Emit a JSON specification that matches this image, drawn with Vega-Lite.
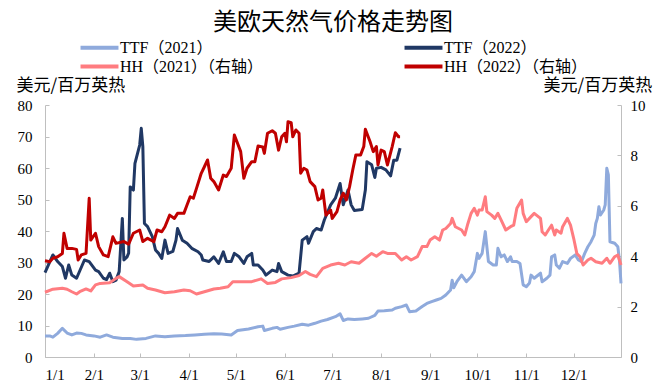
{
  "$schema": "https://vega.github.io/schema/vega-lite/v6.json",
  "width": 576,
  "height": 252,
  "autosize": {"type": "none"},
  "padding": {"left": 45, "top": 105, "right": 38, "bottom": 34},
  "background": "white",
  "title": {"text": "美欧天然气价格走势图", "font": "Noto Sans CJK SC", "fontSize": 24, "fontWeight": "normal", "color": "#000000", "anchor": "middle", "frame": "group", "offset": 0, "dy": -4},
  "config": {
    "view": {"stroke": null},
    "axis": {"grid": false, "domainColor": "#BFBFBF", "tickColor": "#BFBFBF", "labelFont": "Liberation Serif", "labelFontSize": 15, "labelColor": "#000000", "titleFont": "Noto Sans CJK SC", "titleFontSize": 17, "titleFontWeight": "normal", "titleColor": "#000000"},
    "legend": {"labelFont": "Liberation Serif, Noto Sans CJK SC", "labelFontSize": 16, "labelColor": "#000000"}
  },
  "data": {
    "format": {"parse": {"date": "date:'%Y-%m-%d'"}},
    "values": [
      {"series": "TTF（2021）", "date": "2021-01-01", "value": 6.7},
      {"series": "TTF（2021）", "date": "2021-01-04", "value": 6.7},
      {"series": "TTF（2021）", "date": "2021-01-06", "value": 6.3},
      {"series": "TTF（2021）", "date": "2021-01-09", "value": 7.5},
      {"series": "TTF（2021）", "date": "2021-01-12", "value": 9.1},
      {"series": "TTF（2021）", "date": "2021-01-15", "value": 7.6},
      {"series": "TTF（2021）", "date": "2021-01-18", "value": 7.0},
      {"series": "TTF（2021）", "date": "2021-01-21", "value": 7.6},
      {"series": "TTF（2021）", "date": "2021-01-24", "value": 7.5},
      {"series": "TTF（2021）", "date": "2021-01-27", "value": 7.0},
      {"series": "TTF（2021）", "date": "2021-02-01", "value": 6.7},
      {"series": "TTF（2021）", "date": "2021-02-05", "value": 6.3},
      {"series": "TTF（2021）", "date": "2021-02-09", "value": 7.0},
      {"series": "TTF（2021）", "date": "2021-02-13", "value": 6.3},
      {"series": "TTF（2021）", "date": "2021-02-19", "value": 5.9},
      {"series": "TTF（2021）", "date": "2021-02-24", "value": 5.9},
      {"series": "TTF（2021）", "date": "2021-02-28", "value": 5.6},
      {"series": "TTF（2021）", "date": "2021-03-05", "value": 5.9},
      {"series": "TTF（2021）", "date": "2021-03-11", "value": 6.7},
      {"series": "TTF（2021）", "date": "2021-03-17", "value": 6.4},
      {"series": "TTF（2021）", "date": "2021-03-23", "value": 6.7},
      {"series": "TTF（2021）", "date": "2021-03-30", "value": 6.8},
      {"series": "TTF（2021）", "date": "2021-04-05", "value": 7.0},
      {"series": "TTF（2021）", "date": "2021-04-11", "value": 7.2},
      {"series": "TTF（2021）", "date": "2021-04-17", "value": 7.4},
      {"series": "TTF（2021）", "date": "2021-04-22", "value": 7.3},
      {"series": "TTF（2021）", "date": "2021-04-28", "value": 7.0},
      {"series": "TTF（2021）", "date": "2021-05-02", "value": 8.4},
      {"series": "TTF（2021）", "date": "2021-05-09", "value": 8.9},
      {"series": "TTF（2021）", "date": "2021-05-15", "value": 9.6},
      {"series": "TTF（2021）", "date": "2021-05-18", "value": 9.8},
      {"series": "TTF（2021）", "date": "2021-05-19", "value": 8.4},
      {"series": "TTF（2021）", "date": "2021-05-24", "value": 9.1},
      {"series": "TTF（2021）", "date": "2021-05-27", "value": 9.4},
      {"series": "TTF（2021）", "date": "2021-05-29", "value": 8.8},
      {"series": "TTF（2021）", "date": "2021-06-03", "value": 9.4},
      {"series": "TTF（2021）", "date": "2021-06-07", "value": 9.8},
      {"series": "TTF（2021）", "date": "2021-06-12", "value": 10.4},
      {"series": "TTF（2021）", "date": "2021-06-16", "value": 10.1},
      {"series": "TTF（2021）", "date": "2021-06-20", "value": 10.7},
      {"series": "TTF（2021）", "date": "2021-06-24", "value": 11.4},
      {"series": "TTF（2021）", "date": "2021-06-28", "value": 11.9},
      {"series": "TTF（2021）", "date": "2021-07-03", "value": 12.8},
      {"series": "TTF（2021）", "date": "2021-07-06", "value": 13.7},
      {"series": "TTF（2021）", "date": "2021-07-08", "value": 11.6},
      {"series": "TTF（2021）", "date": "2021-07-11", "value": 12.1},
      {"series": "TTF（2021）", "date": "2021-07-15", "value": 11.9},
      {"series": "TTF（2021）", "date": "2021-07-20", "value": 12.1},
      {"series": "TTF（2021）", "date": "2021-07-24", "value": 12.3},
      {"series": "TTF（2021）", "date": "2021-07-28", "value": 13.2},
      {"series": "TTF（2021）", "date": "2021-07-30", "value": 14.6},
      {"series": "TTF（2021）", "date": "2021-08-03", "value": 14.7},
      {"series": "TTF（2021）", "date": "2021-08-08", "value": 14.9},
      {"series": "TTF（2021）", "date": "2021-08-10", "value": 15.5},
      {"series": "TTF（2021）", "date": "2021-08-14", "value": 16.0},
      {"series": "TTF（2021）", "date": "2021-08-17", "value": 16.5},
      {"series": "TTF（2021）", "date": "2021-08-19", "value": 14.4},
      {"series": "TTF（2021）", "date": "2021-08-23", "value": 14.6},
      {"series": "TTF（2021）", "date": "2021-08-27", "value": 16.0},
      {"series": "TTF（2021）", "date": "2021-08-30", "value": 17.0},
      {"series": "TTF（2021）", "date": "2021-09-02", "value": 17.6},
      {"series": "TTF（2021）", "date": "2021-09-05", "value": 18.1},
      {"series": "TTF（2021）", "date": "2021-09-08", "value": 18.6},
      {"series": "TTF（2021）", "date": "2021-09-11", "value": 19.7},
      {"series": "TTF（2021）", "date": "2021-09-14", "value": 21.3},
      {"series": "TTF（2021）", "date": "2021-09-15", "value": 24.4},
      {"series": "TTF（2021）", "date": "2021-09-16", "value": 22.0},
      {"series": "TTF（2021）", "date": "2021-09-18", "value": 23.9},
      {"series": "TTF（2021）", "date": "2021-09-21", "value": 26.0},
      {"series": "TTF（2021）", "date": "2021-09-24", "value": 23.9},
      {"series": "TTF（2021）", "date": "2021-09-27", "value": 25.5},
      {"series": "TTF（2021）", "date": "2021-09-29", "value": 27.1},
      {"series": "TTF（2021）", "date": "2021-10-01", "value": 32.9},
      {"series": "TTF（2021）", "date": "2021-10-02", "value": 31.3},
      {"series": "TTF（2021）", "date": "2021-10-04", "value": 32.9},
      {"series": "TTF（2021）", "date": "2021-10-06", "value": 39.8},
      {"series": "TTF（2021）", "date": "2021-10-07", "value": 35.0},
      {"series": "TTF（2021）", "date": "2021-10-08", "value": 30.3},
      {"series": "TTF（2021）", "date": "2021-10-11", "value": 29.2},
      {"series": "TTF（2021）", "date": "2021-10-13", "value": 29.2},
      {"series": "TTF（2021）", "date": "2021-10-14", "value": 34.5},
      {"series": "TTF（2021）", "date": "2021-10-16", "value": 31.8},
      {"series": "TTF（2021）", "date": "2021-10-18", "value": 32.4},
      {"series": "TTF（2021）", "date": "2021-10-20", "value": 30.3},
      {"series": "TTF（2021）", "date": "2021-10-22", "value": 31.8},
      {"series": "TTF（2021）", "date": "2021-10-23", "value": 30.3},
      {"series": "TTF（2021）", "date": "2021-10-26", "value": 30.3},
      {"series": "TTF（2021）", "date": "2021-10-28", "value": 29.7},
      {"series": "TTF（2021）", "date": "2021-10-30", "value": 22.9},
      {"series": "TTF（2021）", "date": "2021-11-01", "value": 22.3},
      {"series": "TTF（2021）", "date": "2021-11-03", "value": 23.5},
      {"series": "TTF（2021）", "date": "2021-11-04", "value": 26.0},
      {"series": "TTF（2021）", "date": "2021-11-06", "value": 25.0},
      {"series": "TTF（2021）", "date": "2021-11-10", "value": 26.6},
      {"series": "TTF（2021）", "date": "2021-11-11", "value": 23.9},
      {"series": "TTF（2021）", "date": "2021-11-14", "value": 25.0},
      {"series": "TTF（2021）", "date": "2021-11-16", "value": 26.0},
      {"series": "TTF（2021）", "date": "2021-11-17", "value": 31.8},
      {"series": "TTF（2021）", "date": "2021-11-19", "value": 32.4},
      {"series": "TTF（2021）", "date": "2021-11-20", "value": 29.2},
      {"series": "TTF（2021）", "date": "2021-11-22", "value": 28.2},
      {"series": "TTF（2021）", "date": "2021-11-24", "value": 30.3},
      {"series": "TTF（2021）", "date": "2021-11-27", "value": 29.7},
      {"series": "TTF（2021）", "date": "2021-11-29", "value": 31.3},
      {"series": "TTF（2021）", "date": "2021-12-02", "value": 32.4},
      {"series": "TTF（2021）", "date": "2021-12-04", "value": 30.8},
      {"series": "TTF（2021）", "date": "2021-12-06", "value": 30.3},
      {"series": "TTF（2021）", "date": "2021-12-08", "value": 32.9},
      {"series": "TTF（2021）", "date": "2021-12-10", "value": 35.0},
      {"series": "TTF（2021）", "date": "2021-12-12", "value": 36.6},
      {"series": "TTF（2021）", "date": "2021-12-14", "value": 38.7},
      {"series": "TTF（2021）", "date": "2021-12-15", "value": 42.4},
      {"series": "TTF（2021）", "date": "2021-12-16", "value": 44.0},
      {"series": "TTF（2021）", "date": "2021-12-17", "value": 47.7},
      {"series": "TTF（2021）", "date": "2021-12-18", "value": 45.1},
      {"series": "TTF（2021）", "date": "2021-12-20", "value": 46.6},
      {"series": "TTF（2021）", "date": "2021-12-21", "value": 48.3},
      {"series": "TTF（2021）", "date": "2021-12-22", "value": 59.9},
      {"series": "TTF（2021）", "date": "2021-12-23", "value": 57.8},
      {"series": "TTF（2021）", "date": "2021-12-24", "value": 36.6},
      {"series": "TTF（2021）", "date": "2021-12-27", "value": 36.1},
      {"series": "TTF（2021）", "date": "2021-12-29", "value": 35.0},
      {"series": "TTF（2021）", "date": "2021-12-30", "value": 30.8},
      {"series": "TTF（2021）", "date": "2021-12-31", "value": 23.4},

      {"series": "TTF（2022）", "date": "2022-01-01", "value": 26.8},
      {"series": "TTF（2022）", "date": "2022-01-06", "value": 32.4},
      {"series": "TTF（2022）", "date": "2022-01-09", "value": 30.3},
      {"series": "TTF（2022）", "date": "2022-01-12", "value": 28.7},
      {"series": "TTF（2022）", "date": "2022-01-14", "value": 25.0},
      {"series": "TTF（2022）", "date": "2022-01-16", "value": 29.2},
      {"series": "TTF（2022）", "date": "2022-01-18", "value": 26.0},
      {"series": "TTF（2022）", "date": "2022-01-21", "value": 25.0},
      {"series": "TTF（2022）", "date": "2022-01-26", "value": 30.8},
      {"series": "TTF（2022）", "date": "2022-01-29", "value": 30.3},
      {"series": "TTF（2022）", "date": "2022-02-02", "value": 27.6},
      {"series": "TTF（2022）", "date": "2022-02-04", "value": 27.1},
      {"series": "TTF（2022）", "date": "2022-02-07", "value": 25.0},
      {"series": "TTF（2022）", "date": "2022-02-09", "value": 24.6},
      {"series": "TTF（2022）", "date": "2022-02-11", "value": 26.6},
      {"series": "TTF（2022）", "date": "2022-02-13", "value": 23.9},
      {"series": "TTF（2022）", "date": "2022-02-15", "value": 24.4},
      {"series": "TTF（2022）", "date": "2022-02-17", "value": 27.1},
      {"series": "TTF（2022）", "date": "2022-02-19", "value": 44.0},
      {"series": "TTF（2022）", "date": "2022-02-20", "value": 30.8},
      {"series": "TTF（2022）", "date": "2022-02-22", "value": 31.8},
      {"series": "TTF（2022）", "date": "2022-02-23", "value": 33.0},
      {"series": "TTF（2022）", "date": "2022-02-24", "value": 54.0},
      {"series": "TTF（2022）", "date": "2022-02-26", "value": 53.0},
      {"series": "TTF（2022）", "date": "2022-02-27", "value": 61.5},
      {"series": "TTF（2022）", "date": "2022-03-01", "value": 67.3},
      {"series": "TTF（2022）", "date": "2022-03-02", "value": 72.6},
      {"series": "TTF（2022）", "date": "2022-03-03", "value": 66.8},
      {"series": "TTF（2022）", "date": "2022-03-04", "value": 42.4},
      {"series": "TTF（2022）", "date": "2022-03-06", "value": 41.4},
      {"series": "TTF（2022）", "date": "2022-03-09", "value": 38.2},
      {"series": "TTF（2022）", "date": "2022-03-11", "value": 34.0},
      {"series": "TTF（2022）", "date": "2022-03-13", "value": 32.9},
      {"series": "TTF（2022）", "date": "2022-03-15", "value": 31.3},
      {"series": "TTF（2022）", "date": "2022-03-17", "value": 37.1},
      {"series": "TTF（2022）", "date": "2022-03-19", "value": 32.9},
      {"series": "TTF（2022）", "date": "2022-03-22", "value": 33.5},
      {"series": "TTF（2022）", "date": "2022-03-24", "value": 37.1},
      {"series": "TTF（2022）", "date": "2022-03-25", "value": 40.8},
      {"series": "TTF（2022）", "date": "2022-03-28", "value": 37.1},
      {"series": "TTF（2022）", "date": "2022-03-31", "value": 36.1},
      {"series": "TTF（2022）", "date": "2022-04-03", "value": 34.5},
      {"series": "TTF（2022）", "date": "2022-04-07", "value": 33.4},
      {"series": "TTF（2022）", "date": "2022-04-09", "value": 32.4},
      {"series": "TTF（2022）", "date": "2022-04-10", "value": 30.8},
      {"series": "TTF（2022）", "date": "2022-04-14", "value": 30.3},
      {"series": "TTF（2022）", "date": "2022-04-17", "value": 31.8},
      {"series": "TTF（2022）", "date": "2022-04-20", "value": 29.7},
      {"series": "TTF（2022）", "date": "2022-04-23", "value": 33.4},
      {"series": "TTF（2022）", "date": "2022-04-25", "value": 30.3},
      {"series": "TTF（2022）", "date": "2022-04-28", "value": 30.3},
      {"series": "TTF（2022）", "date": "2022-04-30", "value": 32.9},
      {"series": "TTF（2022）", "date": "2022-05-03", "value": 31.8},
      {"series": "TTF（2022）", "date": "2022-05-06", "value": 29.7},
      {"series": "TTF（2022）", "date": "2022-05-08", "value": 31.8},
      {"series": "TTF（2022）", "date": "2022-05-11", "value": 32.9},
      {"series": "TTF（2022）", "date": "2022-05-12", "value": 29.2},
      {"series": "TTF（2022）", "date": "2022-05-15", "value": 29.2},
      {"series": "TTF（2022）", "date": "2022-05-18", "value": 27.6},
      {"series": "TTF（2022）", "date": "2022-05-20", "value": 26.0},
      {"series": "TTF（2022）", "date": "2022-05-24", "value": 27.6},
      {"series": "TTF（2022）", "date": "2022-05-27", "value": 27.1},
      {"series": "TTF（2022）", "date": "2022-05-28", "value": 29.7},
      {"series": "TTF（2022）", "date": "2022-05-30", "value": 27.1},
      {"series": "TTF（2022）", "date": "2022-06-03", "value": 26.0},
      {"series": "TTF（2022）", "date": "2022-06-06", "value": 25.7},
      {"series": "TTF（2022）", "date": "2022-06-10", "value": 26.6},
      {"series": "TTF（2022）", "date": "2022-06-12", "value": 37.1},
      {"series": "TTF（2022）", "date": "2022-06-15", "value": 38.2},
      {"series": "TTF（2022）", "date": "2022-06-16", "value": 36.1},
      {"series": "TTF（2022）", "date": "2022-06-19", "value": 39.8},
      {"series": "TTF（2022）", "date": "2022-06-21", "value": 40.8},
      {"series": "TTF（2022）", "date": "2022-06-24", "value": 40.3},
      {"series": "TTF（2022）", "date": "2022-06-26", "value": 43.5},
      {"series": "TTF（2022）", "date": "2022-06-30", "value": 48.3},
      {"series": "TTF（2022）", "date": "2022-07-03", "value": 50.4},
      {"series": "TTF（2022）", "date": "2022-07-06", "value": 55.1},
      {"series": "TTF（2022）", "date": "2022-07-08", "value": 48.3},
      {"series": "TTF（2022）", "date": "2022-07-11", "value": 53.0},
      {"series": "TTF（2022）", "date": "2022-07-13", "value": 48.3},
      {"series": "TTF（2022）", "date": "2022-07-15", "value": 46.5},
      {"series": "TTF（2022）", "date": "2022-07-20", "value": 46.8},
      {"series": "TTF（2022）", "date": "2022-07-22", "value": 53.0},
      {"series": "TTF（2022）", "date": "2022-07-23", "value": 62.0},
      {"series": "TTF（2022）", "date": "2022-07-26", "value": 61.0},
      {"series": "TTF（2022）", "date": "2022-07-28", "value": 57.0},
      {"series": "TTF（2022）", "date": "2022-07-29", "value": 59.9},
      {"series": "TTF（2022）", "date": "2022-08-01", "value": 60.2},
      {"series": "TTF（2022）", "date": "2022-08-04", "value": 59.4},
      {"series": "TTF（2022）", "date": "2022-08-07", "value": 57.5},
      {"series": "TTF（2022）", "date": "2022-08-09", "value": 62.5},
      {"series": "TTF（2022）", "date": "2022-08-11", "value": 62.5},
      {"series": "TTF（2022）", "date": "2022-08-13", "value": 66.3},

      {"series": "HH（2021）（右轴）", "date": "2021-01-01", "value": 2.57},
      {"series": "HH（2021）（右轴）", "date": "2021-01-06", "value": 2.69},
      {"series": "HH（2021）（右轴）", "date": "2021-01-12", "value": 2.73},
      {"series": "HH（2021）（右轴）", "date": "2021-01-15", "value": 2.69},
      {"series": "HH（2021）（右轴）", "date": "2021-01-18", "value": 2.59},
      {"series": "HH（2021）（右轴）", "date": "2021-01-21", "value": 2.5},
      {"series": "HH（2021）（右轴）", "date": "2021-01-23", "value": 2.59},
      {"series": "HH（2021）（右轴）", "date": "2021-01-27", "value": 2.7},
      {"series": "HH（2021）（右轴）", "date": "2021-01-30", "value": 2.62},
      {"series": "HH（2021）（右轴）", "date": "2021-02-02", "value": 2.86},
      {"series": "HH（2021）（右轴）", "date": "2021-02-05", "value": 2.92},
      {"series": "HH（2021）（右轴）", "date": "2021-02-11", "value": 2.95},
      {"series": "HH（2021）（右轴）", "date": "2021-02-15", "value": 3.12},
      {"series": "HH（2021）（右轴）", "date": "2021-02-17", "value": 3.19},
      {"series": "HH（2021）（右轴）", "date": "2021-02-22", "value": 2.99},
      {"series": "HH（2021）（右轴）", "date": "2021-02-26", "value": 2.82},
      {"series": "HH（2021）（右轴）", "date": "2021-03-03", "value": 2.86},
      {"series": "HH（2021）（右轴）", "date": "2021-03-06", "value": 2.73},
      {"series": "HH（2021）（右轴）", "date": "2021-03-11", "value": 2.66},
      {"series": "HH（2021）（右轴）", "date": "2021-03-17", "value": 2.55},
      {"series": "HH（2021）（右轴）", "date": "2021-03-23", "value": 2.59},
      {"series": "HH（2021）（右轴）", "date": "2021-03-29", "value": 2.66},
      {"series": "HH（2021）（右轴）", "date": "2021-04-02", "value": 2.63},
      {"series": "HH（2021）（右轴）", "date": "2021-04-06", "value": 2.5},
      {"series": "HH（2021）（右轴）", "date": "2021-04-11", "value": 2.59},
      {"series": "HH（2021）（右轴）", "date": "2021-04-17", "value": 2.7},
      {"series": "HH（2021）（右轴）", "date": "2021-04-21", "value": 2.73},
      {"series": "HH（2021）（右轴）", "date": "2021-04-26", "value": 2.79},
      {"series": "HH（2021）（右轴）", "date": "2021-04-29", "value": 2.99},
      {"series": "HH（2021）（右轴）", "date": "2021-05-04", "value": 2.99},
      {"series": "HH（2021）（右轴）", "date": "2021-05-11", "value": 2.99},
      {"series": "HH（2021）（右轴）", "date": "2021-05-17", "value": 3.1},
      {"series": "HH（2021）（右轴）", "date": "2021-05-21", "value": 2.92},
      {"series": "HH（2021）（右轴）", "date": "2021-05-26", "value": 2.96},
      {"series": "HH（2021）（右轴）", "date": "2021-05-30", "value": 3.1},
      {"series": "HH（2021）（右轴）", "date": "2021-06-05", "value": 3.15},
      {"series": "HH（2021）（右轴）", "date": "2021-06-10", "value": 3.23},
      {"series": "HH（2021）（右轴）", "date": "2021-06-14", "value": 3.39},
      {"series": "HH（2021）（右轴）", "date": "2021-06-17", "value": 3.28},
      {"series": "HH（2021）（右轴）", "date": "2021-06-21", "value": 3.19},
      {"series": "HH（2021）（右轴）", "date": "2021-06-25", "value": 3.52},
      {"series": "HH（2021）（右轴）", "date": "2021-06-30", "value": 3.65},
      {"series": "HH（2021）（右轴）", "date": "2021-07-05", "value": 3.72},
      {"series": "HH（2021）（右轴）", "date": "2021-07-09", "value": 3.65},
      {"series": "HH（2021）（右轴）", "date": "2021-07-13", "value": 3.78},
      {"series": "HH（2021）（右轴）", "date": "2021-07-18", "value": 3.72},
      {"series": "HH（2021）（右轴）", "date": "2021-07-22", "value": 3.92},
      {"series": "HH（2021）（右轴）", "date": "2021-07-26", "value": 4.11},
      {"series": "HH（2021）（右轴）", "date": "2021-07-29", "value": 4.0},
      {"series": "HH（2021）（右轴）", "date": "2021-08-02", "value": 4.18},
      {"series": "HH（2021）（右轴）", "date": "2021-08-05", "value": 4.11},
      {"series": "HH（2021）（右轴）", "date": "2021-08-10", "value": 4.11},
      {"series": "HH（2021）（右轴）", "date": "2021-08-14", "value": 3.85},
      {"series": "HH（2021）（右轴）", "date": "2021-08-17", "value": 3.98},
      {"series": "HH（2021）（右轴）", "date": "2021-08-20", "value": 3.85},
      {"series": "HH（2021）（右轴）", "date": "2021-08-24", "value": 3.98},
      {"series": "HH（2021）（右轴）", "date": "2021-08-27", "value": 4.38},
      {"series": "HH（2021）（右轴）", "date": "2021-08-30", "value": 4.38},
      {"series": "HH（2021）（右轴）", "date": "2021-09-01", "value": 4.64},
      {"series": "HH（2021）（右轴）", "date": "2021-09-04", "value": 4.77},
      {"series": "HH（2021）（右轴）", "date": "2021-09-07", "value": 4.64},
      {"series": "HH（2021）（右轴）", "date": "2021-09-09", "value": 5.04},
      {"series": "HH（2021）（右轴）", "date": "2021-09-11", "value": 5.1},
      {"series": "HH（2021）（右轴）", "date": "2021-09-14", "value": 5.3},
      {"series": "HH（2021）（右轴）", "date": "2021-09-15", "value": 5.5},
      {"series": "HH（2021）（右轴）", "date": "2021-09-17", "value": 5.17},
      {"series": "HH（2021）（右轴）", "date": "2021-09-21", "value": 5.04},
      {"series": "HH（2021）（右轴）", "date": "2021-09-23", "value": 4.84},
      {"series": "HH（2021）（右轴）", "date": "2021-09-25", "value": 5.3},
      {"series": "HH（2021）（右轴）", "date": "2021-09-27", "value": 5.7},
      {"series": "HH（2021）（右轴）", "date": "2021-09-29", "value": 5.9},
      {"series": "HH（2021）（右轴）", "date": "2021-10-01", "value": 5.63},
      {"series": "HH（2021）（右轴）", "date": "2021-10-02", "value": 5.83},
      {"series": "HH（2021）（右轴）", "date": "2021-10-04", "value": 5.83},
      {"series": "HH（2021）（右轴）", "date": "2021-10-06", "value": 6.36},
      {"series": "HH（2021）（右轴）", "date": "2021-10-07", "value": 5.77},
      {"series": "HH（2021）（右轴）", "date": "2021-10-10", "value": 5.63},
      {"series": "HH（2021）（右轴）", "date": "2021-10-12", "value": 5.5},
      {"series": "HH（2021）（右轴）", "date": "2021-10-14", "value": 5.7},
      {"series": "HH（2021）（右轴）", "date": "2021-10-16", "value": 5.44},
      {"series": "HH（2021）（右轴）", "date": "2021-10-19", "value": 5.04},
      {"series": "HH（2021）（右轴）", "date": "2021-10-22", "value": 5.17},
      {"series": "HH（2021）（右轴）", "date": "2021-10-24", "value": 5.23},
      {"series": "HH（2021）（右轴）", "date": "2021-10-26", "value": 5.9},
      {"series": "HH（2021）（右轴）", "date": "2021-10-29", "value": 6.23},
      {"series": "HH（2021）（右轴）", "date": "2021-10-30", "value": 5.7},
      {"series": "HH（2021）（右轴）", "date": "2021-11-01", "value": 5.37},
      {"series": "HH（2021）（右轴）", "date": "2021-11-04", "value": 5.57},
      {"series": "HH（2021）（右轴）", "date": "2021-11-06", "value": 5.7},
      {"series": "HH（2021）（右轴）", "date": "2021-11-10", "value": 5.5},
      {"series": "HH（2021）（右轴）", "date": "2021-11-11", "value": 4.97},
      {"series": "HH（2021）（右轴）", "date": "2021-11-13", "value": 4.84},
      {"series": "HH（2021）（右轴）", "date": "2021-11-15", "value": 5.04},
      {"series": "HH（2021）（右轴）", "date": "2021-11-17", "value": 5.23},
      {"series": "HH（2021）（右轴）", "date": "2021-11-19", "value": 4.84},
      {"series": "HH（2021）（右轴）", "date": "2021-11-20", "value": 5.04},
      {"series": "HH（2021）（右轴）", "date": "2021-11-23", "value": 4.91},
      {"series": "HH（2021）（右轴）", "date": "2021-11-24", "value": 5.17},
      {"series": "HH（2021）（右轴）", "date": "2021-11-27", "value": 5.5},
      {"series": "HH（2021）（右轴）", "date": "2021-11-29", "value": 5.23},
      {"series": "HH（2021）（右轴）", "date": "2021-12-01", "value": 4.71},
      {"series": "HH（2021）（右轴）", "date": "2021-12-03", "value": 4.11},
      {"series": "HH（2021）（右轴）", "date": "2021-12-05", "value": 3.98},
      {"series": "HH（2021）（右轴）", "date": "2021-12-07", "value": 3.65},
      {"series": "HH（2021）（右轴）", "date": "2021-12-10", "value": 3.85},
      {"series": "HH（2021）（右轴）", "date": "2021-12-12", "value": 3.92},
      {"series": "HH（2021）（右轴）", "date": "2021-12-15", "value": 3.78},
      {"series": "HH（2021）（右轴）", "date": "2021-12-19", "value": 3.72},
      {"series": "HH（2021）（右轴）", "date": "2021-12-22", "value": 3.92},
      {"series": "HH（2021）（右轴）", "date": "2021-12-24", "value": 3.72},
      {"series": "HH（2021）（右轴）", "date": "2021-12-27", "value": 3.98},
      {"series": "HH（2021）（右轴）", "date": "2021-12-29", "value": 4.05},
      {"series": "HH（2021）（右轴）", "date": "2021-12-30", "value": 3.85},
      {"series": "HH（2021）（右轴）", "date": "2021-12-31", "value": 3.65},

      {"series": "HH（2022）（右轴）", "date": "2022-01-01", "value": 3.82},
      {"series": "HH（2022）（右轴）", "date": "2022-01-04", "value": 3.78},
      {"series": "HH（2022）（右轴）", "date": "2022-01-06", "value": 3.92},
      {"series": "HH（2022）（右轴）", "date": "2022-01-09", "value": 3.98},
      {"series": "HH（2022）（右轴）", "date": "2022-01-12", "value": 4.11},
      {"series": "HH（2022）（右轴）", "date": "2022-01-13", "value": 4.91},
      {"series": "HH（2022）（右轴）", "date": "2022-01-15", "value": 4.31},
      {"series": "HH（2022）（右轴）", "date": "2022-01-18", "value": 4.31},
      {"series": "HH（2022）（右轴）", "date": "2022-01-21", "value": 4.27},
      {"series": "HH（2022）（右轴）", "date": "2022-01-22", "value": 3.85},
      {"series": "HH（2022）（右轴）", "date": "2022-01-24", "value": 4.05},
      {"series": "HH（2022）（右轴）", "date": "2022-01-27", "value": 4.11},
      {"series": "HH（2022）（右轴）", "date": "2022-01-29", "value": 6.3},
      {"series": "HH（2022）（右轴）", "date": "2022-01-30", "value": 4.64},
      {"series": "HH（2022）（右轴）", "date": "2022-02-02", "value": 4.91},
      {"series": "HH（2022）（右轴）", "date": "2022-02-04", "value": 4.38},
      {"series": "HH（2022）（右轴）", "date": "2022-02-07", "value": 4.05},
      {"series": "HH（2022）（右轴）", "date": "2022-02-10", "value": 3.98},
      {"series": "HH（2022）（右轴）", "date": "2022-02-13", "value": 4.77},
      {"series": "HH（2022）（右轴）", "date": "2022-02-15", "value": 4.51},
      {"series": "HH（2022）（右轴）", "date": "2022-02-20", "value": 4.58},
      {"series": "HH（2022）（右轴）", "date": "2022-02-23", "value": 4.48},
      {"series": "HH（2022）（右轴）", "date": "2022-02-26", "value": 4.91},
      {"series": "HH（2022）（右轴）", "date": "2022-03-01", "value": 5.04},
      {"series": "HH（2022）（右轴）", "date": "2022-03-03", "value": 4.58},
      {"series": "HH（2022）（右轴）", "date": "2022-03-06", "value": 4.71},
      {"series": "HH（2022）（右轴）", "date": "2022-03-10", "value": 4.58},
      {"series": "HH（2022）（右轴）", "date": "2022-03-12", "value": 5.04},
      {"series": "HH（2022）（右轴）", "date": "2022-03-15", "value": 4.97},
      {"series": "HH（2022）（右轴）", "date": "2022-03-17", "value": 5.17},
      {"series": "HH（2022）（右轴）", "date": "2022-03-20", "value": 5.63},
      {"series": "HH（2022）（右轴）", "date": "2022-03-23", "value": 5.5},
      {"series": "HH（2022）（右轴）", "date": "2022-03-25", "value": 5.7},
      {"series": "HH（2022）（右轴）", "date": "2022-03-29", "value": 5.7},
      {"series": "HH（2022）（右轴）", "date": "2022-03-31", "value": 6.03},
      {"series": "HH（2022）（右轴）", "date": "2022-04-02", "value": 6.36},
      {"series": "HH（2022）（右轴）", "date": "2022-04-04", "value": 6.3},
      {"series": "HH（2022）（右轴）", "date": "2022-04-06", "value": 6.69},
      {"series": "HH（2022）（右轴）", "date": "2022-04-09", "value": 7.29},
      {"series": "HH（2022）（右轴）", "date": "2022-04-11", "value": 7.55},
      {"series": "HH（2022）（右轴）", "date": "2022-04-13", "value": 7.82},
      {"series": "HH（2022）（右轴）", "date": "2022-04-15", "value": 7.09},
      {"series": "HH（2022）（右轴）", "date": "2022-04-17", "value": 6.96},
      {"series": "HH（2022）（右轴）", "date": "2022-04-20", "value": 6.63},
      {"series": "HH（2022）（右轴）", "date": "2022-04-23", "value": 7.22},
      {"series": "HH（2022）（右轴）", "date": "2022-04-25", "value": 7.16},
      {"series": "HH（2022）（右轴）", "date": "2022-04-28", "value": 7.49},
      {"series": "HH（2022）（右轴）", "date": "2022-04-30", "value": 8.81},
      {"series": "HH（2022）（右轴）", "date": "2022-05-02", "value": 8.48},
      {"series": "HH（2022）（右轴）", "date": "2022-05-04", "value": 8.15},
      {"series": "HH（2022）（右轴）", "date": "2022-05-06", "value": 7.09},
      {"series": "HH（2022）（右轴）", "date": "2022-05-08", "value": 7.49},
      {"series": "HH（2022）（右轴）", "date": "2022-05-11", "value": 7.75},
      {"series": "HH（2022）（右轴）", "date": "2022-05-13", "value": 7.75},
      {"series": "HH（2022）（右轴）", "date": "2022-05-15", "value": 8.37},
      {"series": "HH（2022）（右轴）", "date": "2022-05-18", "value": 8.33},
      {"series": "HH（2022）（右轴）", "date": "2022-05-19", "value": 8.08},
      {"series": "HH（2022）（右轴）", "date": "2022-05-21", "value": 8.88},
      {"series": "HH（2022）（右轴）", "date": "2022-05-24", "value": 8.98},
      {"series": "HH（2022）（右轴）", "date": "2022-05-26", "value": 8.88},
      {"series": "HH（2022）（右轴）", "date": "2022-05-28", "value": 8.21},
      {"series": "HH（2022）（右轴）", "date": "2022-05-30", "value": 8.74},
      {"series": "HH（2022）（右轴）", "date": "2022-06-01", "value": 8.88},
      {"series": "HH（2022）（右轴）", "date": "2022-06-02", "value": 8.54},
      {"series": "HH（2022）（右轴）", "date": "2022-06-03", "value": 9.34},
      {"series": "HH（2022）（右轴）", "date": "2022-06-05", "value": 9.3},
      {"series": "HH（2022）（右轴）", "date": "2022-06-06", "value": 8.74},
      {"series": "HH（2022）（右轴）", "date": "2022-06-08", "value": 9.01},
      {"series": "HH（2022）（右轴）", "date": "2022-06-10", "value": 8.88},
      {"series": "HH（2022）（右轴）", "date": "2022-06-11", "value": 7.29},
      {"series": "HH（2022）（右轴）", "date": "2022-06-13", "value": 7.49},
      {"series": "HH（2022）（右轴）", "date": "2022-06-15", "value": 7.42},
      {"series": "HH（2022）（右轴）", "date": "2022-06-17", "value": 6.96},
      {"series": "HH（2022）（右轴）", "date": "2022-06-20", "value": 6.76},
      {"series": "HH（2022）（右轴）", "date": "2022-06-22", "value": 6.23},
      {"series": "HH（2022）（右轴）", "date": "2022-06-24", "value": 6.3},
      {"series": "HH（2022）（右轴）", "date": "2022-06-25", "value": 6.63},
      {"series": "HH（2022）（右轴）", "date": "2022-06-27", "value": 5.63},
      {"series": "HH（2022）（右轴）", "date": "2022-06-30", "value": 5.83},
      {"series": "HH（2022）（右轴）", "date": "2022-07-01", "value": 5.5},
      {"series": "HH（2022）（右轴）", "date": "2022-07-04", "value": 5.77},
      {"series": "HH（2022）（右轴）", "date": "2022-07-06", "value": 6.23},
      {"series": "HH（2022）（右轴）", "date": "2022-07-08", "value": 6.5},
      {"series": "HH（2022）（右轴）", "date": "2022-07-10", "value": 6.23},
      {"series": "HH（2022）（右轴）", "date": "2022-07-12", "value": 6.76},
      {"series": "HH（2022）（右轴）", "date": "2022-07-14", "value": 7.42},
      {"series": "HH（2022）（右轴）", "date": "2022-07-16", "value": 8.02},
      {"series": "HH（2022）（右轴）", "date": "2022-07-19", "value": 8.02},
      {"series": "HH（2022）（右轴）", "date": "2022-07-21", "value": 8.35},
      {"series": "HH（2022）（右轴）", "date": "2022-07-22", "value": 9.04},
      {"series": "HH（2022）（右轴）", "date": "2022-07-25", "value": 8.54},
      {"series": "HH（2022）（右轴）", "date": "2022-07-27", "value": 8.15},
      {"series": "HH（2022）（右轴）", "date": "2022-07-29", "value": 8.35},
      {"series": "HH（2022）（右轴）", "date": "2022-07-30", "value": 7.62},
      {"series": "HH（2022）（右轴）", "date": "2022-08-01", "value": 8.21},
      {"series": "HH（2022）（右轴）", "date": "2022-08-03", "value": 8.15},
      {"series": "HH（2022）（右轴）", "date": "2022-08-05", "value": 7.62},
      {"series": "HH（2022）（右轴）", "date": "2022-08-08", "value": 8.35},
      {"series": "HH（2022）（右轴）", "date": "2022-08-10", "value": 8.9},
      {"series": "HH（2022）（右轴）", "date": "2022-08-12", "value": 8.74},
      {"series": "HH（2022）（右轴）", "date": "2022-08-13", "value": 8.74}
    ]
  },
  "encoding": {
    "x": {
      "field": "date", "type": "temporal", "timeUnit": "monthdate",
      "scale": {"domain": [{"month": 1, "date": 1}, {"month": 12, "date": 31}]},
      "axis": {
        "title": null, "format": "%-m/%-d", "tickSize": -4, "labelPadding": 14,
        "values": [{"month": 1, "date": 1}, {"month": 2, "date": 1}, {"month": 3, "date": 1}, {"month": 4, "date": 1}, {"month": 5, "date": 1}, {"month": 6, "date": 1}, {"month": 7, "date": 1}, {"month": 8, "date": 1}, {"month": 9, "date": 1}, {"month": 10, "date": 1}, {"month": 11, "date": 1}, {"month": 12, "date": 1}]
      }
    },
    "color": {
      "field": "series", "type": "nominal",
      "scale": {"domain": ["TTF（2021）", "TTF（2022）", "HH（2021）（右轴）", "HH（2022）（右轴）"], "range": ["#8FAADC", "#203864", "#FF7C80", "#C00000"]},
      "legend": {"title": null, "orient": "none", "legendX": 46, "legendY": -66, "direction": "horizontal", "columns": 2, "columnPadding": 132, "rowPadding": 2, "padding": 0, "symbolType": "M-3,0H3", "symbolSize": 160, "symbolStrokeWidth": 4, "labelOffset": 12}
    }
  },
  "layer": [
    {
      "transform": [{"filter": {"field": "series", "oneOf": ["TTF（2021）", "TTF（2022）"]}}],
      "mark": {"type": "line", "strokeWidth": 3, "strokeJoin": "round"},
      "encoding": {
        "y": {"field": "value", "type": "quantitative", "scale": {"domain": [0, 80]},
          "axis": {"orient": "left", "values": [0, 10, 20, 30, 40, 50, 60, 70, 80], "tickSize": -4, "labelPadding": 17, "title": "美元/百万英热", "titleAngle": 0, "titleAlign": "left", "titleBaseline": "middle", "titleX": -29, "titleY": -20}}
      }
    },
    {
      "transform": [{"filter": {"field": "series", "oneOf": ["HH（2021）（右轴）", "HH（2022）（右轴）"]}}],
      "mark": {"type": "line", "strokeWidth": 3, "strokeJoin": "round"},
      "encoding": {
        "y": {"field": "value", "type": "quantitative", "scale": {"domain": [0, 10]},
          "axis": {"orient": "right", "values": [0, 2, 4, 6, 8, 10], "tickSize": -4, "labelPadding": 13, "title": "美元/百万英热", "titleAngle": 0, "titleAlign": "left", "titleBaseline": "middle", "titleX": -78, "titleY": -20}}
      }
    }
  ],
  "resolve": {"scale": {"y": "independent"}, "axis": {"y": "independent"}}
}
